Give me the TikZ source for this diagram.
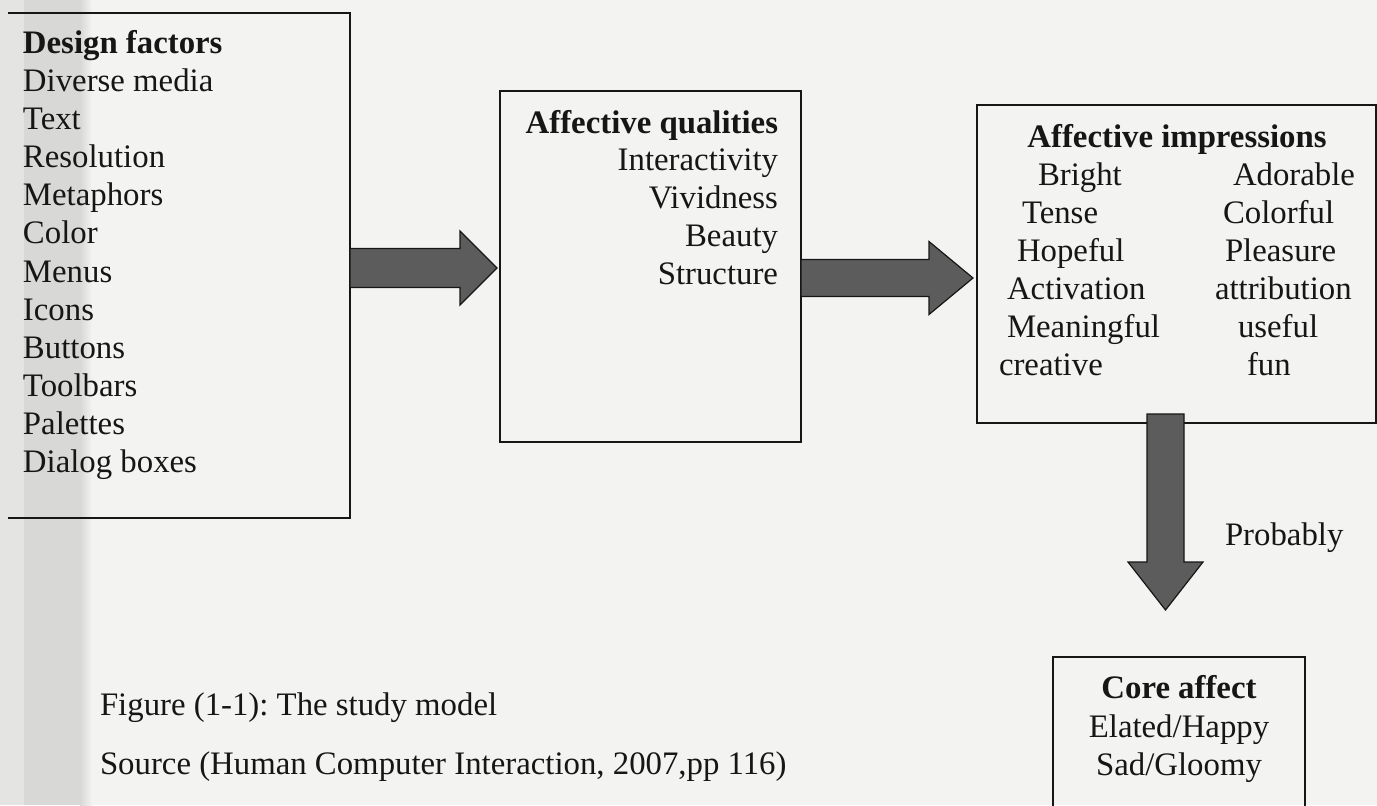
\documentclass[tikz,border=0pt]{standalone}
\usepackage{fontspec}
\setmainfont{Liberation Serif}
\usetikzlibrary{calc,fit}
\frenchspacing

\definecolor{paper}{RGB}{243,243,242}
\definecolor{bandA}{RGB}{228,228,227}
\definecolor{bandB}{RGB}{216,216,215}
\definecolor{arrowgray}{RGB}{92,92,92}
\definecolor{ink}{RGB}{22,22,22}

\tikzset{
  boxframe/.style={inner sep=0pt, outer sep=0pt},
  boxline/.style={draw=ink, line width=0.7pt},
  txt/.style={inner sep=0pt, outer sep=0pt, text=ink, font=\fontsize{16.4}{19.1}\selectfont},
  hd/.style={txt, font=\fontsize{16.4}{19.1}\selectfont\bfseries},
  arrowbody/.style={fill=arrowgray, draw=ink, line width=0.6pt, line join=miter},
}

% block arrow pointing right: from, to, shaft half width, head half width, head length (px)
\newcommand\fatright[5]{%
  \filldraw[arrowbody] let \p1=(#1), \p2=(#2) in
    (\x1,{\y1+#3*0.5pt}) -- ({\x2-#5*0.5pt},{\y1+#3*0.5pt})
    -- ({\x2-#5*0.5pt},{\y1+#4*0.5pt}) -- (\x2,\y1)
    -- ({\x2-#5*0.5pt},{\y1-#4*0.5pt}) -- ({\x2-#5*0.5pt},{\y1-#3*0.5pt})
    -- (\x1,{\y1-#3*0.5pt}) -- cycle;}
% block arrow pointing down
\newcommand\fatdown[5]{%
  \filldraw[arrowbody] let \p1=(#1), \p2=(#2) in
    ({\x1-#3*0.5pt},\y1) -- ({\x1-#3*0.5pt},{\y2+#5*0.5pt})
    -- ({\x1-#4*0.5pt},{\y2+#5*0.5pt}) -- (\x1,\y2)
    -- ({\x1+#4*0.5pt},{\y2+#5*0.5pt}) -- ({\x1+#3*0.5pt},{\y2+#5*0.5pt})
    -- ({\x1+#3*0.5pt},\y1) -- cycle;}

\begin{document}
\begin{tikzpicture}[x=0.5pt,y=-0.5pt]
  \useasboundingbox (0,0) rectangle (1377,805);

  % paper and the shaded binding edge
  \fill[paper] (0,0) rectangle (1377,805);
  \fill[bandB] (0,0) rectangle (80,805);
  \fill[bandA] (0,0) rectangle (24,805);
  \shade[left color=bandB, right color=paper] (80,0) rectangle (92,805);

  % boxes
  \node[boxframe, fit={(8,13) (350,518)}] (b1) {};
  \node[boxframe, boxline, fit={(500,91) (801,442)}] (b2) {};
  \node[boxframe, boxline, fit={(977,105) (1376,423)}] (b3) {};
  \node[boxframe, fit={(1053,657) (1305,830)}] (b4) {};
  \draw[boxline] (b1.north west) -- (b1.north east) -- (b1.south east) -- (b1.south west);
  \draw[boxline] (b4.south west) -- (b4.north west) -- (b4.north east) -- (b4.south east);

  % Design factors
  \node[hd, anchor=base west] (df0) at (23,53) {Design factors};
  \foreach \t [count=\i] in {Diverse media, Text, Resolution, Metaphors, Color,
      Menus, Icons, Buttons, Toolbars, Palettes, Dialog boxes}
    \node[txt, anchor=base west] (df\i) at (23,{53+38.18*\i}) {\t};

  % Affective qualities
  \node[hd, anchor=base east] (aq0) at (778,133) {Affective qualities};
  \foreach \t [count=\i] in {Interactivity, Vividness, Beauty, Structure}
    \node[txt, anchor=base east] (aq\i) at (778,{133+37.8*\i}) {\t};

  % Affective impressions
  \node[hd, anchor=base] (ai0) at (1177,147) {Affective impressions};
  \foreach \t/\x [count=\i] in {Bright/1038, Tense/1022, Hopeful/1017,
      Activation/1007, Meaningful/1007, creative/999}
    \node[txt, anchor=base west] (ail\i) at (\x,{147+38.1*\i}) {\t};
  \foreach \t/\x [count=\i] in {Adorable/1233, Colorful/1223, Pleasure/1225,
      attribution/1215, useful/1238, fun/1247}
    \node[txt, anchor=base west] (air\i) at (\x,{147+38.1*\i}) {\t};

  % Core affect
  \node[hd, anchor=base] (ca0) at (b4.north |- 0,698) {Core affect};
  \node[txt, anchor=base] (ca1) at (b4.north |- 0,737) {Elated/Happy};
  \node[txt, anchor=base] (ca2) at (b4.north |- 0,775) {Sad/Gloomy};

  % block arrows between the boxes
  \coordinate (r1) at (0,268);
  \coordinate (r2) at (0,278);
  \coordinate (c3) at (1165.5,0);
  \coordinate (a1s) at (b1.east |- r1);
  \coordinate (a1e) at ([xshift=-1.5pt]b2.west |- r1);
  \coordinate (a2s) at (b2.east |- r2);
  \coordinate (a2e) at ([xshift=-2pt]b3.west |- r2);
  \coordinate (a3s) at ([yshift=4.5pt]c3 |- b3.south);
  \coordinate (a3e) at (c3 |- 0,610);
  \fatright{a1s}{a1e}{19.5}{37}{37}
  \fatright{a2s}{a2e}{18.5}{36.5}{44}
  \fatdown{a3s}{a3e}{18.5}{37.5}{48}

  \node[txt, anchor=base west] (prob) at (1225,545) {Probably};

  % caption
  \node[txt, anchor=base west] (cap1) at (100,715) {Figure (1-1): The study model};
  \node[txt, anchor=base west] (cap2) at (100,774) {Source (Human Computer Interaction, 2007,pp 116)};
\end{tikzpicture}
\end{document}
